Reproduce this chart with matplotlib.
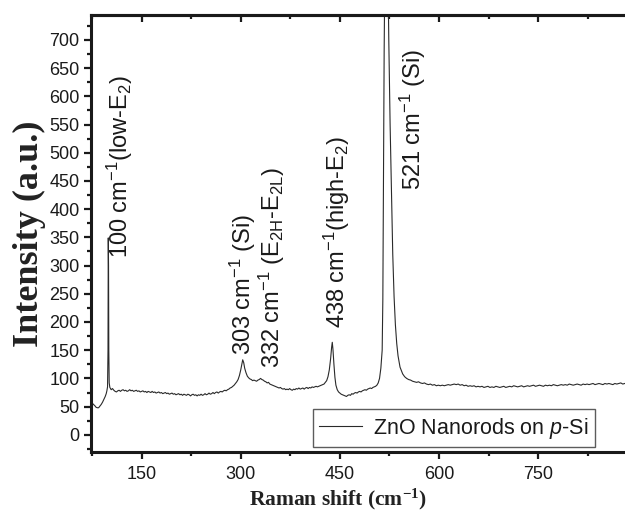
import matplotlib
matplotlib.use("Agg")
import matplotlib.pyplot as plt
from matplotlib.ticker import MultipleLocator

plt.rcParams['font.family'] = ['Liberation Sans', 'DejaVu Sans']
plt.rcParams['mathtext.fontset'] = 'custom'
plt.rcParams['mathtext.rm'] = 'Liberation Sans'
plt.rcParams['mathtext.it'] = 'Liberation Sans:italic'
plt.rcParams['mathtext.bf'] = 'Liberation Sans:bold'

# ---- data: (Raman shift, intensity) ----
spectrum = [
    (73, 60), (75, 57), (77, 54), (79, 52), (81, 49), (83, 48), (85, 48), (87, 51), (89, 54), (91, 58),
    (93, 63), (95, 68), (96.5, 73), (97.5, 78), (98.5, 85), (99.2, 150), (99.6, 349), (100.0, 300),
    (100.4, 150), (101, 92), (102, 84),
    (104, 80), (106, 82), (108, 79), (110, 77), (112, 76), (114, 78), (116, 79), (118, 77), (120, 79),
    (122, 80), (124, 78), (126, 79), (128, 77), (130, 78), (132, 80), (134, 78), (136, 79), (138, 77),
    (140, 78), (142, 79), (144, 77), (146, 78), (148, 76), (150, 77), (152, 78), (154, 76), (156, 77),
    (158, 75), (160, 77), (162, 76), (164, 75), (166, 77), (168, 75), (170, 76), (172, 74), (174, 75),
    (176, 76), (178, 74), (180, 75), (182, 73), (184, 74), (186, 75), (188, 73), (190, 74), (192, 72),
    (194, 73), (196, 74), (198, 72), (200, 73), (202, 71), (204, 72), (206, 73), (208, 71), (210, 72),
    (212, 70), (214, 72), (216, 71), (218, 70), (220, 72), (222, 71), (224, 69), (226, 71), (228, 72),
    (230, 70), (232, 71), (234, 69), (236, 71), (238, 70), (240, 72), (242, 70), (244, 71), (246, 73),
    (248, 71), (250, 72), (252, 74), (254, 72), (256, 73), (258, 75), (260, 73), (262, 75), (264, 76),
    (266, 74), (268, 76), (270, 77), (272, 76), (274, 78), (276, 79), (278, 78), (280, 80), (282, 81),
    (284, 83), (286, 84), (288, 86), (290, 88), (292, 91), (294, 94), (296, 98),
    (298, 105), (300, 115), (301.5, 124), (303, 133), (304.5, 128), (306, 118), (308, 110), (310, 104),
    (312, 101), (314, 99), (316, 98), (318, 96), (320, 97), (322, 96), (324, 95), (326, 97), (328, 98),
    (330, 100), (332, 98), (334, 97), (336, 95), (338, 94),
    (340, 92), (342, 93), (344, 90), (346, 89), (348, 88), (350, 87), (352, 86), (354, 85), (356, 84),
    (358, 83), (360, 84), (362, 82), (364, 81), (366, 82), (368, 80), (370, 81), (372, 80), (374, 82),
    (376, 80), (378, 79), (380, 81), (382, 80), (384, 82), (386, 81), (388, 83), (390, 81), (392, 82),
    (394, 83), (396, 81), (398, 83), (400, 84), (402, 82), (404, 84), (406, 83), (408, 85), (410, 84),
    (412, 85), (414, 86), (416, 85), (418, 86), (420, 87), (422, 88), (424, 89), (426, 90), (428, 93),
    (430, 96),
    (432, 103), (434, 115), (436, 135), (437.5, 155), (438.5, 164), (439.5, 152), (441, 125),
    (442.5, 102), (444, 88), (446, 80), (448, 76), (450, 74), (452, 72), (454, 71), (456, 70), (458, 69),
    (460, 68), (462, 70), (464, 71), (466, 70), (468, 73), (470, 72), (472, 74), (474, 75), (476, 74),
    (478, 76), (480, 77), (482, 76), (484, 78), (486, 79), (488, 80), (490, 79), (492, 81), (494, 82),
    (496, 83), (498, 82), (500, 84), (502, 85), (504, 86), (506, 88), (508, 92), (510, 100), (512, 118),
    (514, 150), (515, 240), (516, 480), (517, 680), (518, 820), (519, 900), (520, 940), (521, 930),
    (522, 880), (523, 800), (524, 700), (525, 620), (526, 550), (527, 490), (528, 430), (530, 320),
    (532, 245), (534, 195), (536, 162), (538, 140), (541, 120), (545, 108), (548, 103), (551, 100),
    (554, 98),
    (557, 97), (560, 95), (563, 94), (566, 93), (569, 94), (572, 92), (575, 91), (578, 92), (581, 90),
    (584, 89), (587, 90), (590, 88), (593, 89), (596, 87), (599, 88), (602, 87), (605, 88), (608, 87),
    (611, 88), (614, 89), (617, 88), (620, 89), (623, 90), (626, 89), (629, 90), (632, 88), (635, 89),
    (638, 87), (641, 88), (644, 86), (647, 87), (650, 86), (653, 87), (656, 85), (659, 86), (662, 85),
    (665, 86), (668, 84), (671, 85), (674, 86), (677, 84), (680, 85), (683, 84), (686, 86), (689, 85),
    (692, 84), (695, 85), (698, 86), (701, 84), (704, 85), (707, 86), (710, 85), (713, 87), (716, 86),
    (719, 85), (722, 86), (725, 87), (728, 85), (731, 86), (734, 87), (737, 86), (740, 87), (743, 88),
    (746, 86), (749, 87), (752, 88), (755, 87), (758, 86), (761, 88), (764, 87), (767, 88), (770, 87),
    (773, 89), (776, 88), (779, 87), (782, 88), (785, 89), (788, 88), (791, 89), (794, 88), (797, 90),
    (800, 89), (803, 88), (806, 89), (809, 90), (812, 89), (815, 88), (818, 90), (821, 89), (824, 90),
    (827, 89), (830, 90), (833, 91), (836, 89), (839, 90), (842, 91), (845, 90), (848, 89), (851, 91),
    (854, 90), (857, 91), (860, 90), (863, 89), (866, 91), (869, 90), (872, 91), (875, 92), (878, 90),
    (881, 91), (884, 92), (887, 91), (890, 92),
]
shift = [p[0] for p in spectrum]
intensity = [p[1] for p in spectrum]

series_label = "ZnO Nanorods on $\\it{p}$-Si"

peak_labels = ["100 cm$\\mathregular{^{-1}}$(low-E$\\mathregular{_2}$)",
               "303 cm$\\mathregular{^{-1}}$ (Si)",
               "332 cm$\\mathregular{^{-1}}$ (E$\\mathregular{_{2H}}$-E$\\mathregular{_{2L}}$)",
               "438 cm$\\mathregular{^{-1}}$(high-E$\\mathregular{_2}$)",
               "521 cm$\\mathregular{^{-1}}$ (Si)"]
peak_label_x = [117, 303, 347, 446, 561]
peak_label_y = [314, 142, 119, 190, 434]

x_major = [150, 300, 450, 600, 750]
y_major = [0, 50, 100, 150, 200, 250, 300, 350, 400, 450, 500, 550, 600, 650, 700]

# ---- figure ----
fig = plt.figure(figsize=(6.25, 5.17), dpi=100)
ax = fig.add_axes([0.1451, 0.1251, 0.8746, 0.8458])

ax.plot(shift, intensity, color='#2a2a2a', lw=0.8, label=series_label)

ax.set_xlim(73, 900)
ax.set_ylim(-31, 744)

ax.set_xticks(x_major)
ax.set_yticks(y_major)
ax.xaxis.set_minor_locator(MultipleLocator(75))
ax.yaxis.set_minor_locator(MultipleLocator(25))

for s in ['left', 'bottom', 'top']:
    ax.spines[s].set_linewidth(2.2)
    ax.spines[s].set_color('#1a1a1a')
ax.spines['right'].set_visible(False)

ax.tick_params(axis='both', which='major', direction='out', length=5, width=1.6,
               labelsize=13, color='#1a1a1a', labelcolor='#1a1a1a')
ax.tick_params(axis='both', which='minor', direction='out', length=3, width=1.6, color='#1a1a1a')
ax.tick_params(axis='x', pad=5)
ax.tick_params(axis='y', pad=3)
ax.tick_params(top=False, right=False)

sec = ax.secondary_xaxis('top')
sec.set_xticks(x_major)
sec.xaxis.set_minor_locator(MultipleLocator(75))
sec.tick_params(axis='x', which='major', direction='in', length=5, width=1.6, labeltop=False, color='#1a1a1a')
sec.tick_params(axis='x', which='minor', direction='in', length=3, width=1.6, color='#1a1a1a')
sec.spines['top'].set_linewidth(2.2)

ax.set_xlabel("Raman shift (cm$\\mathregular{^{-1}}$)", family='Liberation Serif', weight='bold',
              fontsize=15.5, color='#222222')
ax.xaxis.set_label_coords(0.4524, -0.078)
ax.set_ylabel("Intensity (a.u.)", family='Liberation Serif', weight='bold', fontsize=26,
              labelpad=2, color='#222222')

for t, xx, yy in zip(peak_labels, peak_label_x, peak_label_y):
    ax.text(xx, yy, t, rotation=90, ha='center', va='bottom', fontsize=17, color='#1a1a1a')

leg = ax.legend(loc='lower right', bbox_to_anchor=(0.9226, 0.012), bbox_transform=ax.transAxes,
                borderaxespad=0, fontsize=15.5, frameon=True, fancybox=False, handlelength=2.0,
                handletextpad=0.5, borderpad=0.3)
leg.get_frame().set_edgecolor('#333333')
leg.get_frame().set_linewidth(1.0)
for txt in leg.get_texts():
    txt.set_color('#1a1a1a')

fig.savefig("out.png", dpi=100)
